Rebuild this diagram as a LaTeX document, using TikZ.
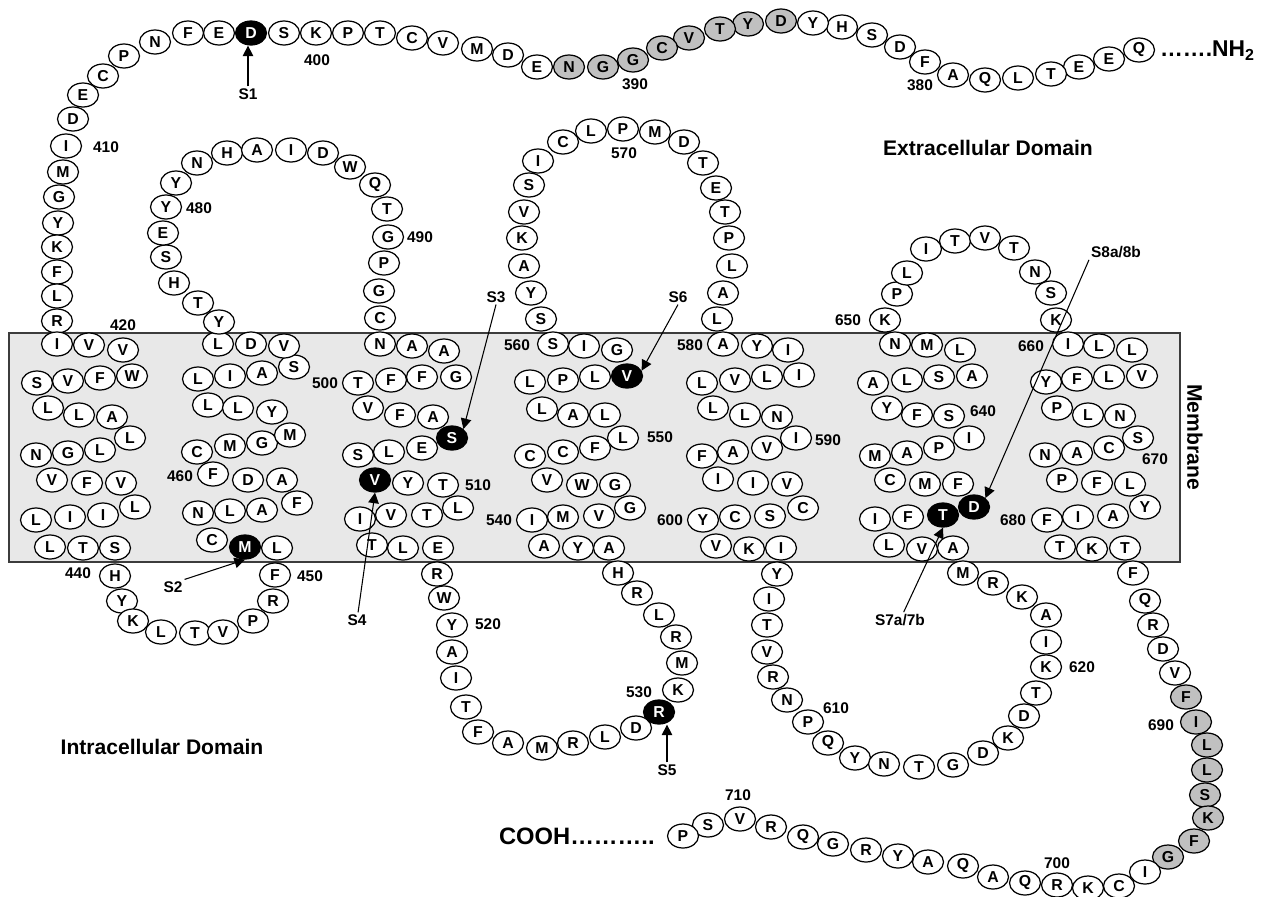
\documentclass[tikz,border=0pt]{standalone}
\usepackage{fontspec}
\setmainfont{Liberation Sans}
\usepackage{xcolor}
\definecolor{membg}{RGB}{232,232,232}
\definecolor{memframe}{RGB}{60,60,60}
\definecolor{resgray}{RGB}{192,192,192}
\usepackage{tikz}
\usetikzlibrary{shapes.geometric,arrows.meta}
\tikzset{
  res/.style={ellipse,draw=black,fill=white,line width=0.7pt,
    minimum width=0.62cm,minimum height=0.48cm,inner sep=0pt,
    font=\fontsize{9}{10}\selectfont\bfseries},
  resg/.style={res,fill=resgray},
  resb/.style={res,fill=black,text=white},
  numlab/.style={font=\fontsize{8.8}{10}\selectfont\bfseries,inner sep=1pt},
  domlab/.style={font=\fontsize{12}{14}\selectfont\bfseries,inner sep=1pt},
  arr/.style={-{Triangle[length=6pt,width=6pt]},line width=0.6pt},
}

\begin{document}
\begin{tikzpicture}[x=0.02cm,y=-0.02cm]
  \useasboundingbox (0,0) rectangle (1270,896);
  % membrane band
  \draw[fill=membg,draw=memframe,line width=1pt] (9,333) rectangle (1180,562);
  \node[domlab,rotate=-90] (memb) at (1195,437) {Membrane};
  \node[domlab] (extra) at (988,148) {Extracellular Domain};
  \node[domlab] (intra) at (162,747) {Intracellular Domain};

  % N-terminal tail
  \node[font=\fontsize{13}{15}\selectfont\bfseries,anchor=west,inner sep=1pt]
    (nh2) at (1158,51) {…….NH\textsubscript{2}};
  \foreach \x/\y/\a [count=\i] in {1139/50/Q,1109/59/E,1079/67/E,1051/74/T,
      1018/78/L,985/80/Q,953/75/A,925/62/F,900/47/D,872/35/S,842/27/H,813/23/Y}
    \node[res] (nt-\i) at (\x,\y) {\a};
  \foreach \x/\y/\a [count=\i] in {781/21/D,748/24/Y,720/29/T,689/38/V,
      662/48/C,633/60/G,603/67/G,569/67/N}
    \node[resg] (ntg-\i) at (\x,\y) {\a};
  \foreach \x/\y/\a [count=\i] in {537/67/E,508/55/D,477/49/M,443/43/V,
      412/38/C,380/33/T,348/33/P,316/33/K,284/33/S}
    \node[res] (ntb-\i) at (\x,\y) {\a};
  \node[resb] (rS1) at (251,33) {D};
  \foreach \x/\y/\a [count=\i] in {219/33/E,188/33/F,155/42/N,124/56/P,
      103/76/C,83/95/E,73/119/D,66/146/I,63/172/M,59/197/G,58/223/Y,
      57/247/K,57/272/F,57/296/L,57/321/R}
    \node[res] (ntc-\i) at (\x,\y) {\a};

  % TM1 and first intracellular loop
  \foreach \x/\y/\a [count=\i] in {57/344/I,89/345/V,123/350/V,
      37/383/S,68/381/V,100/378/F,132/376/W,48/408/L,79/415/L,112/417/A,
      36/455/N,68/453/G,100/450/L,130/438/L,52/480/V,87/483/F,121/483/V,
      36/520/L,70/517/I,103/515/I,135/507/L,50/547/L,83/548/T,115/548/S}
    \node[res] (tm1-\i) at (\x,\y) {\a};
  \foreach \x/\y/\a [count=\i] in {115/576/H,122/601/Y,133/621/K,161/632/L,
      195/633/T,223/632/V,253/621/P,273/601/R,275/575/F}
    \node[res] (il1-\i) at (\x,\y) {\a};

  % TM2 and first extracellular loop
  \foreach \x/\y/\a [count=\i] in {212/540/C,277/548/L,
      198/513/N,230/511/L,262/510/A,297/503/F,213/474/F,248/480/D,282/480/A,
      197/452/C,230/446/M,262/443/G,290/435/M,208/405/L,238/408/L,272/412/Y,
      198/379/L,230/376/I,262/373/A,294/367/S,218/344/L,251/344/D,284/346/V}
    \node[res] (tm2-\i) at (\x,\y) {\a};
  \node[resb] (rS2) at (245,547) {M};
  \foreach \x/\y/\a [count=\i] in {219/322/Y,198/303/T,174/283/H,166/257/S,
      163/233/E,166/207/Y,176/183/Y,197/163/N,227/153/H,257/150/A,291/150/I,
      323/153/D,350/167/W,375/185/Q,387/209/T,388/237/G,384/263/P,379/291/G,
      380/318/C}
    \node[res] (el1-\i) at (\x,\y) {\a};

  % TM3 and second intracellular loop
  \foreach \x/\y/\a [count=\i] in {380/344/N,412/346/A,444/351/A,
      358/383/T,391/380/F,422/377/F,456/377/G,368/408/V,400/415/F,433/417/A,
      358/455/S,389/452/L,422/448/E,408/483/Y,443/485/T,
      360/519/I,391/515/V,427/515/T,458/508/L,372/545/T,403/548/L,438/548/E}
    \node[res] (tm3-\i) at (\x,\y) {\a};
  \node[resb] (rS3) at (452,438) {S};
  \node[resb] (rS4) at (375,480) {V};
  \foreach \x/\y/\a [count=\i] in {437/574/R,444/598/W,452/625/Y,452/652/A,
      456/678/I,466/707/T,478/732/F,508/743/A,542/748/M,573/743/R,605/737/L,
      636/728/D,678/690/K,682/663/M,676/637/R,659/615/L,637/593/R,618/573/H}
    \node[res] (il2-\i) at (\x,\y) {\a};
  \node[resb] (rS5) at (659,712) {R};

  % TM4 and second extracellular loop
  \foreach \x/\y/\a [count=\i] in {544/546/A,578/548/Y,609/548/A,
      532/520/I,563/517/M,599/516/V,630/508/G,547/480/V,582/485/W,615/485/G,
      530/456/C,563/452/C,595/448/F,623/438/L,542/409/L,573/415/A,605/415/L,
      530/382/L,563/380/P,595/377/L,553/344/S,584/346/I,617/350/G}
    \node[res] (tm4-\i) at (\x,\y) {\a};
  \node[resb] (rS6) at (627,376) {V};
  \foreach \x/\y/\a [count=\i] in {541/319/S,531/293/Y,524/266/A,522/238/K,
      524/212/V,529/185/S,538/161/I,563/142/C,591/131/L,623/129/P,655/132/M,
      684/142/D,703/163/T,716/188/E,725/212/T,729/238/P,732/266/L,723/293/A,
      717/319/L}
    \node[res] (el2-\i) at (\x,\y) {\a};

  % TM5 and third intracellular loop
  \foreach \x/\y/\a [count=\i] in {723/344/A,757/346/Y,788/350/I,
      702/383/L,735/380/V,767/377/L,799/375/I,713/408/L,745/415/L,777/417/N,
      702/456/F,733/452/A,767/448/V,796/438/I,718/479/I,753/483/I,787/484/V,
      703/520/Y,735/517/C,770/516/S,803/508/C,716/546/V,749/549/K,781/548/I}
    \node[res] (tm5-\i) at (\x,\y) {\a};
  \foreach \x/\y/\a [count=\i] in {777/574/Y,769/599/I,767/625/T,767/652/V,
      773/677/R,787/700/N,808/722/P,828/743/Q,855/758/Y,884/764/N,919/767/T,
      953/765/G,983/753/D,1008/738/K,1024/716/D,1036/693/T,1046/667/K,
      1046/642/I,1046/615/A,1022/597/K,993/583/R,963/573/M}
    \node[res] (il3-\i) at (\x,\y) {\a};

  % TM6 and third extracellular loop
  \foreach \x/\y/\a [count=\i] in {889/545/L,922/549/V,953/548/A,
      875/519/I,908/517/F,890/480/C,925/484/M,958/484/F,
      875/456/M,907/453/A,939/448/P,969/438/I,887/408/Y,917/415/F,949/416/S,
      873/383/A,907/380/L,939/377/S,972/376/A,895/344/N,927/345/M,960/350/L}
    \node[res] (tm6-\i) at (\x,\y) {\a};
  \node[resb] (rS7) at (943,515) {T};
  \node[resb] (rS8) at (974,507) {D};
  \foreach \x/\y/\a [count=\i] in {885/320/K,897/294/P,907/273/L,926/249/I,
      955/241/T,985/238/V,1014/248/T,1035/272/N,1051/293/S,1056/320/K}
    \node[res] (el3-\i) at (\x,\y) {\a};

  % TM7 and C-terminal tail
  \foreach \x/\y/\a [count=\i] in {1068/344/I,1099/346/L,1132/350/L,
      1046/382/Y,1077/379/F,1109/377/L,1142/376/V,1057/408/P,1088/415/L,
      1120/416/N,1045/455/N,1077/453/A,1109/448/C,1138/438/S,1062/480/P,
      1097/483/F,1130/484/L,1047/520/F,1078/517/I,1113/516/A,1145/507/Y,
      1060/547/T,1092/549/K,1125/548/T}
    \node[res] (tm7-\i) at (\x,\y) {\a};
  \foreach \x/\y/\a [count=\i] in {1133/573/F,1145/601/Q,1153/625/R,
      1163/649/D,1175/673/V}
    \node[res] (ct-\i) at (\x,\y) {\a};
  \foreach \x/\y/\a [count=\i] in {1186/697/F,1196/722/I,1207/745/L,
      1207/770/L,1205/795/S,1208/818/K,1194/841/F,1168/857/G}
    \node[resg] (ctg-\i) at (\x,\y) {\a};
  \foreach \x/\y/\a [count=\i] in {1145/872/I,1119/886/C,1088/888/K,
      1057/885/R,1025/883/Q,993/877/A,963/866/Q,928/862/A,898/856/Y,
      866/850/R,833/844/G,803/837/Q,771/827/R,740/819/V,708/825/S,683/836/P}
    \node[res] (ctb-\i) at (\x,\y) {\a};
  \node[font=\fontsize{13.5}{15}\selectfont\bfseries,anchor=west,inner sep=1pt]
    (cooh) at (497,836) {COOH………..};

  % residue numbers
  \foreach \x/\y/\t in {920/85/380,635/84/390,317/60/400,106/147/410,
      123/325/420,78/573/440,310/576/450,180/476/460,199/208/480,420/237/490,
      325/383/500,478/485/510,488/624/520,639/692/530,499/520/540,660/437/550,
      517/345/560,624/153/570,690/345/580,828/440/590,670/520/600,836/708/610,
      1082/667/620,983/411/640,848/320/650,1031/346/660,1155/459/670,
      1013/520/680,1161/725/690,1057/863/700,738/795/710}
    \node[numlab] (n\t) at (\x,\y) {\t};

  % site labels and pointers
  \node[numlab] (s1) at (248,94) {S1};
  \node[numlab] (s2) at (173,587) {S2};
  \node[numlab] (s3) at (496,297) {S3};
  \node[numlab] (s4) at (357,620) {S4};
  \node[numlab] (s5) at (667,770) {S5};
  \node[numlab] (s6) at (678,297) {S6};
  \node[numlab] (s7) at (900,620) {S7a/7b};
  \node[numlab] (s8) at (1116,252) {S8a/8b};

  \draw[arr] (s1) -- (s1 |- rS1.south);
  \draw[arr] (s2.north east) -- (rS2.south);
  \draw[arr] (s3.south) -- (rS3.north east);
  \draw[arr] (s4) -- (rS4.south);
  \draw[arr] (s5) -- (s5 |- rS5.south);
  \draw[arr] (s6.south) -- (rS6.20);
  \draw[arr] (s7) -- (rS7.south);
  \draw[arr] (s8.south west) -- (rS8.north east);
\end{tikzpicture}
\end{document}
